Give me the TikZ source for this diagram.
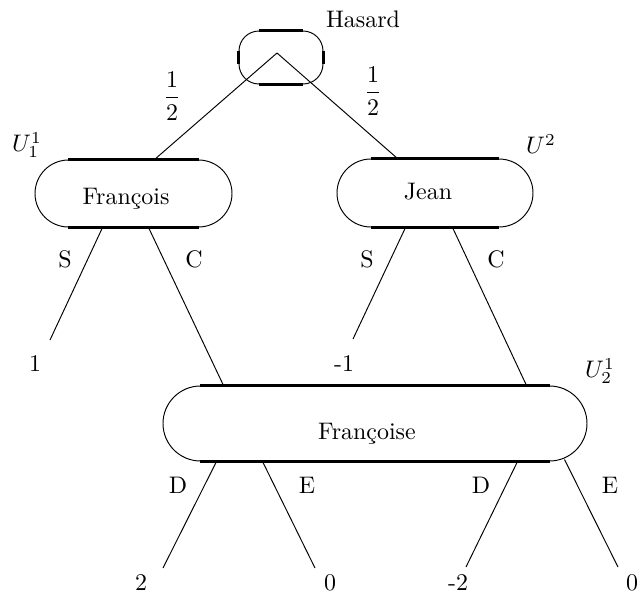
\documentclass[tikz,border=0pt]{standalone}
\usetikzlibrary{calc}
\newcommand\pxu{0.418pt}
\begin{document}
\begin{tikzpicture}[x=0.418pt,y=-0.418pt,
  lbl/.style={anchor=base,inner sep=0pt},
  mth/.style={inner sep=0pt},
  player/.style={draw,line width=0.4pt,inner sep=0pt},
  straight/.style={line width=1pt},
  conn/.style={line width=0.4pt}]
\useasboundingbox (0,0) rectangle (638,593);

% boxes
\node[player,rounded corners=20*\pxu,minimum width=84*\pxu,minimum height=53*\pxu] (ha) at (281,57.5) {};
\node[player,rounded corners=33.5*\pxu,minimum width=197*\pxu,minimum height=67*\pxu] (fr) at (133.5,193.5) {};
\node[player,rounded corners=34*\pxu,minimum width=196*\pxu,minimum height=68*\pxu] (je) at (435,193) {};
\node[player,rounded corners=37.5*\pxu,minimum width=424*\pxu,minimum height=75*\pxu] (fe) at (375,423.5) {};

% thicker straight parts
\draw[straight] ($(ha.north west)+(20,0)$) -- ($(ha.north east)+(-20,0)$);
\draw[straight] ($(ha.south west)+(20,0)$) -- ($(ha.south east)+(-20,0)$);
\draw[straight] ($(ha.north west)+(0,20)$) -- ($(ha.south west)+(0,-20)$);
\draw[straight] ($(ha.north east)+(0,20)$) -- ($(ha.south east)+(0,-20)$);
\draw[straight] ($(fr.north west)+(33.5,0)$) -- ($(fr.north east)+(-33.5,0)$);
\draw[straight] ($(fr.south west)+(33.5,0)$) -- ($(fr.south east)+(-33.5,0)$);
\draw[straight] ($(je.north west)+(34,0)$) -- ($(je.north east)+(-34,0)$);
\draw[straight] ($(je.south west)+(34,0)$) -- ($(je.south east)+(-34,0)$);
\draw[straight] ($(fe.north west)+(37.5,0)$) -- ($(fe.north east)+(-37.5,0)$);
\draw[straight] ($(fe.south west)+(37.5,0)$) -- ($(fe.south east)+(-37.5,0)$);

% box texts
\node[lbl] (thasard) at (363,27) {Hasard};
\node[lbl] (tfr) at (126,204) {François};
\node[lbl] (tje) at (428,199) {Jean};
\node[lbl] (tfe) at (367,439) {Françoise};

% utility labels
\node[mth] (u11) at (27,145) {$U_1^1$};
\node[mth] (u2) at (541,144) {$U^2$};
\node[mth] (u21) at (600,371) {$U_2^1$};

% probabilities
\node[mth] (p1) at (172,96) {$\displaystyle\frac{1}{2}$};
\node[mth] (p2) at (373,91) {$\displaystyle\frac{1}{2}$};

% connectors
\coordinate (ap) at (277,53);
\coordinate (l1) at (50,340);
\coordinate (lm1) at (353,339);
\coordinate (l2) at (163,568);
\coordinate (l0a) at (315,568);
\coordinate (lm2) at (466,567);
\coordinate (l0b) at (618,567);

\draw[conn] (ap) -- ($(fr.north west)+(120,0)$);
\draw[conn] (ap) -- ($(je.north west)+(61,0)$);
\draw[conn] ($(fr.south west)+(68,0)$) -- (l1);
\draw[conn] ($(fr.south west)+(114,0)$) -- ($(fe.north west)+(61,0)$);
\draw[conn] ($(je.south west)+(69,0)$) -- (lm1);
\draw[conn] ($(je.south west)+(116,0)$) -- ($(fe.north west)+(364,0)$);
\draw[conn] ($(fe.south west)+(54,0)$) -- (l2);
\draw[conn] ($(fe.south west)+(100,0)$) -- (l0a);
\draw[conn] ($(fe.south west)+(355,0)$) -- (lm2);
\draw[conn] ($(fe.south west)+(402,-2)$) -- (l0b);

% move labels
\node[lbl] (s1) at (65,267) {S};
\node[lbl] (c1) at (194,267) {C};
\node[lbl] (s2) at (367,267) {S};
\node[lbl] (c2) at (496,267) {C};
\node[lbl] (d1) at (178,493) {D};
\node[lbl] (e1) at (307,493) {E};
\node[lbl] (d2) at (481,493) {D};
\node[lbl] (e2) at (610,493) {E};

% payoffs
\node[lbl] (v1) at (35,371) {1};
\node[lbl] (vm1) at (344,371) {-1};
\node[lbl] (v2) at (141,590) {2};
\node[lbl] (v0a) at (330,590) {0};
\node[lbl] (vm2) at (458,590) {-2};
\node[lbl] (v0b) at (632,590) {0};
\end{tikzpicture}
\end{document}
